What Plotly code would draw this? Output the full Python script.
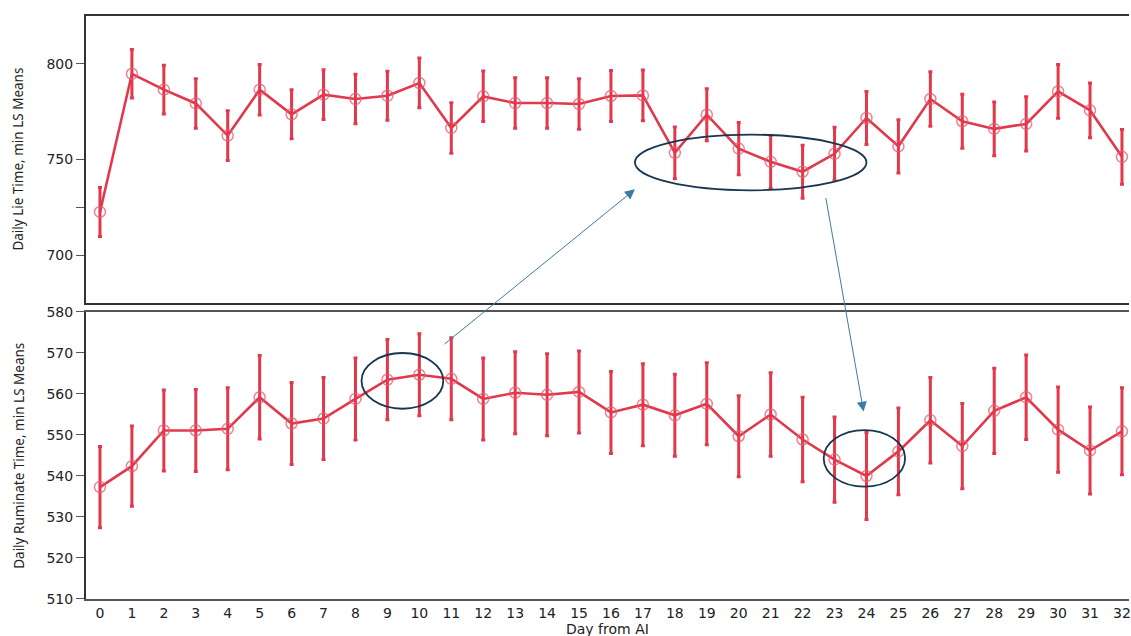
import plotly.graph_objects as go

days = list(range(33))
x_ticks = list(range(33))

lie_means = [722.6, 794.8, 786.5, 779.3, 762.5, 786.5, 773.6, 783.9, 781.6, 783.3,
             790.0, 766.5, 783.0, 779.5, 779.5, 779.0, 783.2, 783.5, 753.5, 773.4,
             755.7, 748.8, 743.6, 753.0, 771.7, 756.9, 781.6, 770.0, 766.0, 768.6,
             785.6, 775.7, 751.4]
lie_err = [12.8, 12.7, 12.7, 12.9, 13.0, 13.2, 12.8, 13.0, 12.9, 12.8,
           13.0, 13.2, 13.2, 13.2, 13.2, 13.2, 13.3, 13.3, 13.5, 13.6,
           13.7, 13.8, 13.8, 13.8, 13.8, 13.9, 14.2, 14.1, 14.1, 14.2,
           14.0, 14.3, 14.3]

rum_means = [537.3, 542.4, 551.1, 551.1, 551.5, 559.2, 552.8, 554.0, 558.8, 563.5,
             564.7, 563.7, 558.8, 560.3, 559.8, 560.5, 555.5, 557.4, 554.8, 557.6,
             549.7, 555.0, 548.9, 544.0, 540.0, 546.0, 553.6, 547.3, 555.9, 559.2,
             551.3, 546.2, 550.9]
rum_err = [9.9, 9.8, 9.9, 10.0, 10.0, 10.2, 10.0, 10.0, 10.0, 9.8,
           10.0, 10.0, 10.0, 10.0, 10.0, 10.0, 10.0, 10.0, 10.0, 10.0,
           9.9, 10.2, 10.3, 10.4, 10.6, 10.6, 10.4, 10.4, 10.4, 10.3,
           10.4, 10.6, 10.6]

RED = "#E1384C"
MARK = "rgba(232,90,108,0.75)"
NAVY = "#17364F"
ARROW = "#3A7CA3"
TXT = "#222222"
FONT = "DejaVu Sans"

fig = go.Figure()

for means, err, xa, ya in [(lie_means, lie_err, "x", "y"), (rum_means, rum_err, "x2", "y2")]:
    fig.add_trace(go.Scatter(
        x=days, y=means, xaxis=xa, yaxis=ya, mode="lines+markers",
        line=dict(color=RED, width=2.6),
        marker=dict(symbol="circle-open", size=11, color=MARK, line=dict(width=1.5, color=MARK)),
        error_y=dict(type="data", array=err, visible=True, color=RED, thickness=3, width=2),
        showlegend=False, cliponaxis=False,
    ))

xrange = [-0.4375, 32.22]
fig.update_layout(
    width=1131, height=636,
    margin=dict(l=86, r=0, t=16, b=37),
    paper_bgcolor="white", plot_bgcolor="white",
    font=dict(family=FONT, size=14, color=TXT),
    xaxis=dict(domain=[0, 1], anchor="y", range=xrange, showticklabels=False,
               showgrid=False, zeroline=False, showline=True, linecolor="#333333",
               linewidth=2, mirror=True, ticks=""),
    yaxis=dict(domain=[0.5077, 1.0], anchor="x", range=[675, 825],
               tickvals=[700, 725, 750, 800], ticktext=["700", "", "750", "800"],
               showgrid=False, zeroline=False, showline=True, linecolor="#333333",
               linewidth=2, ticks="outside", ticklen=8, tickcolor="#555555",
               tickfont=dict(family=FONT, size=14, color=TXT)),
    xaxis2=dict(domain=[0, 1], anchor="y2", range=xrange, matches="x",
                tickvals=x_ticks, ticktext=[str(d) for d in x_ticks],
                tickfont=dict(family=FONT, size=14, color=TXT),
                ticklabeloverflow="allow",
                showgrid=False, zeroline=False, showline=True, linecolor="#555555",
                linewidth=1.5, mirror=True, ticks=""),
    yaxis2=dict(domain=[0, 0.4923], anchor="x2", range=[510, 580],
                tickvals=[510, 520, 530, 540, 550, 560, 570, 580],
                showgrid=False, zeroline=False, showline=True, linecolor="#333333",
                linewidth=2, ticks="outside", ticklen=8, tickcolor="#555555",
                tickfont=dict(family=FONT, size=14, color=TXT)),
)

# Ellipses
fig.add_shape(type="circle", xref="x", yref="y", x0=16.75, x1=24.0, y0=733.9, y1=763.0,
              line=dict(color=NAVY, width=1.8))
fig.add_shape(type="circle", xref="x2", yref="y2", x0=8.19, x1=10.75, y0=556.4, y1=570.0,
              line=dict(color=NAVY, width=1.8))
fig.add_shape(type="circle", xref="x2", yref="y2", x0=22.66, x1=25.21, y0=537.4, y1=551.2,
              line=dict(color=NAVY, width=1.8))

# Arrows
fig.add_annotation(x=16.75, y=734.4, xref="x", yref="y", text="", showarrow=True,
                   ax=-192, ay=156, arrowcolor=ARROW, arrowwidth=1, arrowhead=2,
                   arrowsize=2, standoff=0)
fig.add_annotation(x=23.91, y=555.7, xref="x2", yref="y2", text="", showarrow=True,
                   ax=-38, ay=-215, arrowcolor=ARROW, arrowwidth=1, arrowhead=2,
                   arrowsize=2, standoff=0)

# Axis titles
fig.add_annotation(text="Daily Lie Time, min LS Means", xref="paper", yref="paper",
                   x=-0.065, y=0.754, textangle=-90, showarrow=False,
                   font=dict(family="Noto Sans", size=13.5, color=TXT),
                   xanchor="center", yanchor="middle")
fig.add_annotation(text="Daily Ruminate Time, min LS Means", xref="paper", yref="paper",
                   x=-0.065, y=0.246, textangle=-90, showarrow=False,
                   font=dict(family="Noto Sans", size=13.5, color=TXT),
                   xanchor="center", yanchor="middle")
fig.add_annotation(text="Day from AI", xref="paper", yref="paper",
                   x=0.5, y=-0.052, showarrow=False,
                   font=dict(family=FONT, size=14, color=TXT),
                   xanchor="center", yanchor="middle")

fig.write_html("out.html", config={"displayModeBar": False},
               post_script="document.body.style.margin='0';document.body.style.overflow='hidden';")
